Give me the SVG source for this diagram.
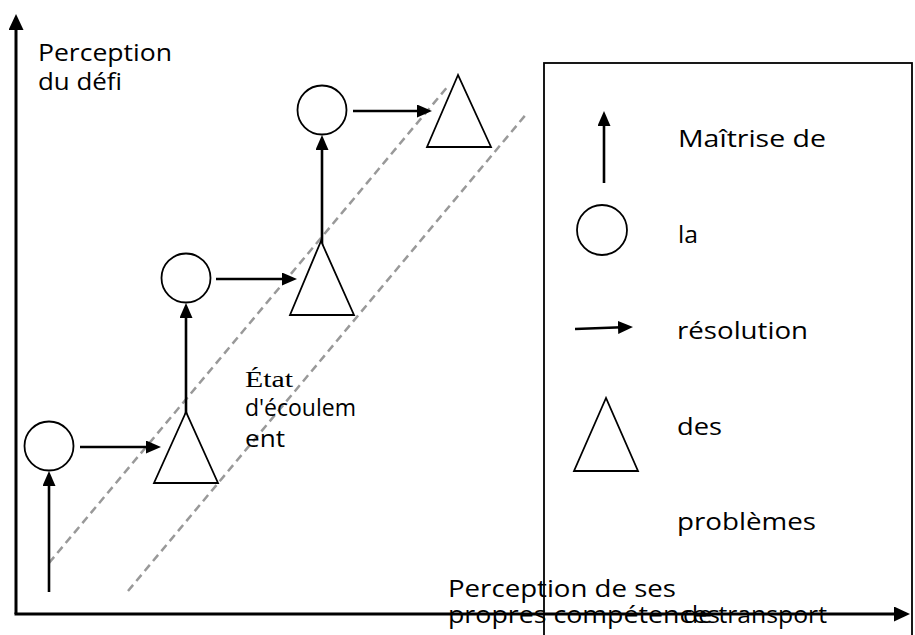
<svg xmlns="http://www.w3.org/2000/svg" width="915" height="635" viewBox="0 0 915 635">
  <style>
    .t { font-family: "Open Sans", "DejaVu Sans", sans-serif; font-size: 23px; fill: #000; }
    .serif { font-family: "Liberation Serif", serif; font-size: 24px; fill: #000; }
    .shape { fill: #fff; stroke: #000; stroke-width: 1.8; }
    .arrow { fill: none; stroke: #000; stroke-width: 2.6; marker-end: url(#head); }
    .axis { fill: none; stroke: #000; stroke-width: 3; marker-end: url(#axishead); }
    .dash { fill: none; stroke: #999; stroke-width: 2.5; stroke-dasharray: 8 5; }
  </style>
  <defs>
    <marker id="head" markerUnits="userSpaceOnUse" markerWidth="17" markerHeight="15" refX="4" refY="6.5" orient="auto">
      <path d="M0,0 L15,6.5 L0,13 z" fill="#000"/>
    </marker>
    <marker id="axishead" markerUnits="userSpaceOnUse" markerWidth="18" markerHeight="16" refX="5" refY="7.5" orient="auto">
      <path d="M0,0 L16,7.5 L0,15 z" fill="#000"/>
    </marker>
  </defs>
  <rect width="915" height="635" fill="#fff"/>

  <g id="axes">
    <line class="axis" x1="16" y1="614" x2="16" y2="25"/>
    <line class="axis" x1="14.5" y1="614" x2="899" y2="614"/>
  </g>

  <g id="flow-zone">
    <line class="dash" x1="49" y1="563" x2="449" y2="85"/>
    <line class="dash" x1="128" y1="591" x2="528" y2="112"/>
  </g>

  <g id="labels">
    <text class="t" x="38" y="61" textLength="134" lengthAdjust="spacingAndGlyphs">Perception</text>
    <text class="t" x="38" y="90" textLength="84" lengthAdjust="spacingAndGlyphs">du défi</text>
    <text class="serif" x="245" y="387" textLength="48" lengthAdjust="spacingAndGlyphs">État</text>
    <text class="t" x="245" y="416" textLength="111" lengthAdjust="spacingAndGlyphs">d'écoulem</text>
    <text class="t" x="245" y="447" textLength="40" lengthAdjust="spacingAndGlyphs">ent</text>
    <text class="t" x="448" y="597" textLength="228" lengthAdjust="spacingAndGlyphs">Perception de ses</text>
    <text class="t" x="448" y="623" textLength="272" lengthAdjust="spacingAndGlyphs">propres compétences</text>
  </g>

  <g id="connectors">
    <line class="arrow" x1="49" y1="592" x2="49" y2="482"/>
    <line class="arrow" x1="80" y1="447" x2="150" y2="447"/>
    <line class="arrow" x1="186" y1="423" x2="186" y2="314"/>
    <line class="arrow" x1="216" y1="279" x2="286" y2="279"/>
    <line class="arrow" x1="322" y1="256" x2="322" y2="146"/>
    <line class="arrow" x1="353" y1="111" x2="421" y2="111"/>
  </g>

  <g id="c1"><circle class="shape" cx="49" cy="446" r="24.5"/></g>
  <g id="t1"><polygon class="shape" points="186,412 154,483 218,483"/></g>
  <g id="c2"><circle class="shape" cx="186" cy="278" r="24.5"/></g>
  <g id="t2"><polygon class="shape" points="321,241 290,315 354,315"/></g>
  <g id="c3"><circle class="shape" cx="322" cy="110" r="24.5"/></g>
  <g id="t3"><polygon class="shape" points="458,75 427,147 491,147"/></g>

  <g id="legend">
    <rect x="544" y="63" width="368" height="600" fill="none" stroke="#000" stroke-width="1.8"/>
    <line class="arrow" x1="604" y1="183" x2="604" y2="122"/>
    <text class="t" x="678" y="147" textLength="148" lengthAdjust="spacingAndGlyphs">Maîtrise de</text>
    <circle class="shape" cx="602" cy="230" r="25"/>
    <text class="t" x="678" y="243" textLength="20" lengthAdjust="spacingAndGlyphs">la</text>
    <line class="arrow" x1="575" y1="329" x2="622" y2="327.3"/>
    <text class="t" x="677" y="339" textLength="131" lengthAdjust="spacingAndGlyphs">résolution</text>
    <polygon class="shape" points="606,398 574,471 638,471"/>
    <text class="t" x="677" y="435" textLength="45" lengthAdjust="spacingAndGlyphs">des</text>
    <text class="t" x="677" y="530" textLength="139" lengthAdjust="spacingAndGlyphs">problèmes</text>
    <text class="t" x="683" y="623" textLength="144" lengthAdjust="spacingAndGlyphs">de transport</text>
  </g>
</svg>
